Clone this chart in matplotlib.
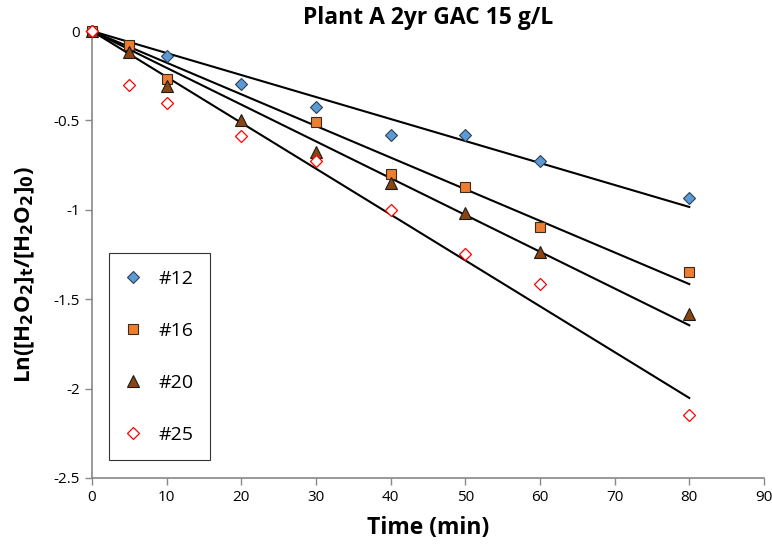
import numpy as np
import matplotlib
matplotlib.use("Agg")
import matplotlib.pyplot as plt

# ---- data ----
x12 = [0, 10, 20, 30, 40, 50, 60, 80]
y12 = [0, -0.138, -0.296, -0.427, -0.582, -0.582, -0.727, -0.932]

x16 = [0, 5, 10, 30, 40, 50, 60, 80]
y16 = [0, -0.078, -0.27, -0.507, -0.80, -0.871, -1.096, -1.35]

x20 = [0, 5, 10, 20, 30, 40, 50, 60, 80]
y20 = [0, -0.116, -0.31, -0.498, -0.679, -0.848, -1.02, -1.234, -1.58]

x25 = [0, 5, 10, 20, 30, 40, 50, 60, 80]
y25 = [0, -0.302, -0.403, -0.587, -0.729, -1.001, -1.245, -1.417, -2.148]

labels = ["#12", "#16", "#20", "#25"]
xticks = list(range(0, 91, 10))
yticks = [0, -0.5, -1, -1.5, -2, -2.5]
ytick_labels = ["0", "-0.5", "-1", "-1.5", "-2", "-2.5"]

plt.rcParams['font.family'] = ['Open Sans', 'DejaVu Sans']

fig = plt.figure(figsize=(7.72, 5.51), dpi=100)
ax = fig.add_axes([0.119, 0.1325, 0.8706, 0.8112])

styles = [
    dict(marker="D", ms=6.5, mfc="#5B9BD5", mec="#2F3F55", mew=0.8),
    dict(marker="s", ms=7.5, mfc="#ED7D31", mec="#3A2A1A", mew=0.8),
    dict(marker="^", ms=8, mfc="#8B4513", mec="#1A1A1A", mew=0.8),
    dict(marker="D", ms=6.5, mfc="white", mec="#FF0000", mew=0.9),
]

series = [(x12, y12), (x16, y16), (x20, y20), (x25, y25)]

# linear trendlines forced through the origin
for xs, ys in series:
    xs = np.array(xs, float)
    ys = np.array(ys, float)
    k = np.sum(xs * ys) / np.sum(xs * xs)
    xl = np.array([0, xs.max()])
    ax.plot(xl, k * xl, color="black", lw=1.5, zorder=2)

for (xs, ys), lab, st in zip(series, labels, styles):
    ax.plot(xs, ys, ls="none", label=lab, zorder=3, clip_on=False, **st)

ax.set_xlim(0, 90)
ax.set_ylim(-2.5, 0)
ax.set_xticks(xticks)
ax.set_yticks(yticks)
ax.set_yticklabels(ytick_labels)
ax.tick_params(labelsize=11, direction="out", length=5, color="#888888", width=1)

for s in ["top", "right"]:
    ax.spines[s].set_visible(False)
for s in ["left", "bottom"]:
    ax.spines[s].set_color("#888888")
    ax.spines[s].set_linewidth(1.2)

ax.set_title("Plant A 2yr GAC 15 g/L", fontsize=16.5, fontweight="bold", pad=5)
ax.set_xlabel("Time (min)", fontsize=16.5, fontweight="bold", labelpad=8)
ax.set_ylabel(r"Ln([H$_\mathbf{2}$O$_\mathbf{2}$]$_\mathbf{t}$/[H$_\mathbf{2}$O$_\mathbf{2}$]$_\mathbf{0}$)",
              fontsize=16, fontweight="bold")
ax.yaxis.set_label_coords(-0.082, 0.455)

leg = ax.legend(loc="lower left", bbox_to_anchor=(0.025, 0.04), fontsize=14,
                labelspacing=1.75, handletextpad=0.9, handlelength=0.8,
                borderpad=0.85, borderaxespad=0, fancybox=False, frameon=True)
leg.get_frame().set_edgecolor("black")
leg.get_frame().set_linewidth(0.8)

fig.savefig("out.png", dpi=100)
